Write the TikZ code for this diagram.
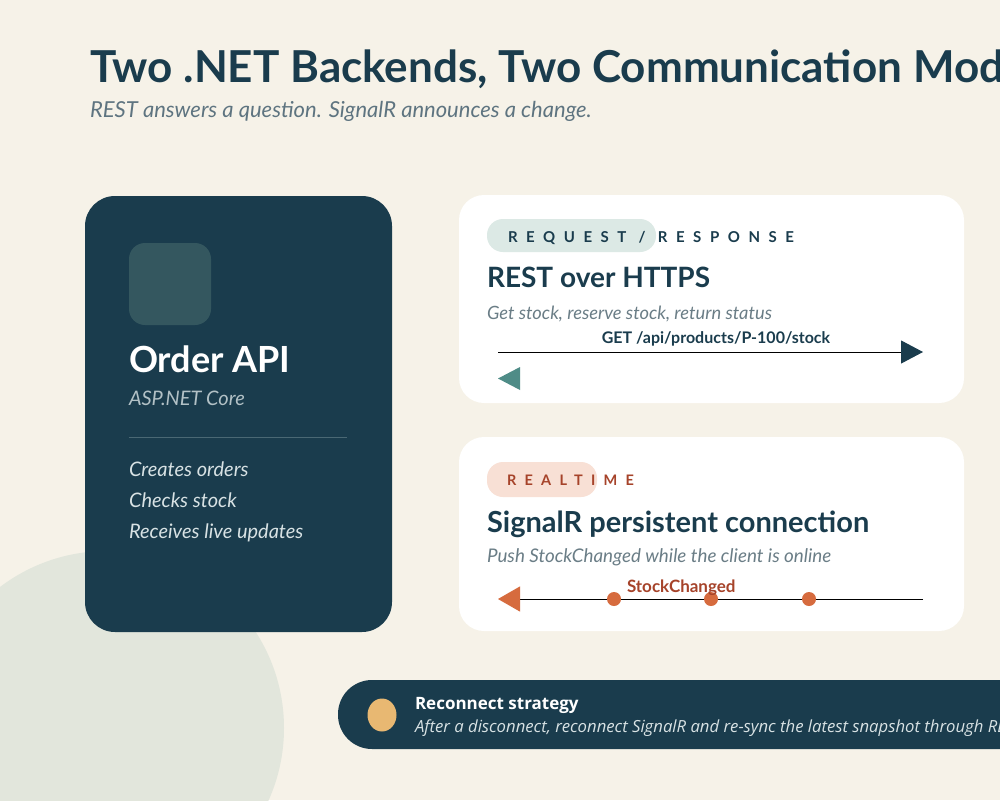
\documentclass[tikz,border=0pt]{standalone}
\usepackage{fontspec}
\setmainfont{Lato}
\newfontfamily\osans{Open Sans}
\usetikzlibrary{arrows.meta}
\definecolor{bg}{HTML}{F6F2E8}
\definecolor{dark}{HTML}{1A3C4D}
\definecolor{iconc}{HTML}{34575F}
\definecolor{blob}{HTML}{E2E6DC}
\definecolor{pillA}{HTML}{DCE9E5}
\definecolor{pillB}{HTML}{F8E0D5}
\definecolor{rust}{HTML}{A6432A}
\definecolor{orng}{HTML}{D66B3E}
\definecolor{teal}{HTML}{4F8C87}
\definecolor{gold}{HTML}{E8B872}
\definecolor{graytx}{HTML}{6A7D86}
\definecolor{subtx}{HTML}{5E7480}
\definecolor{lighttx}{HTML}{D8E2E4}
\definecolor{divc}{HTML}{4A6874}
\tikzset{
  txt/.style={anchor=base west, inner sep=0pt, outer sep=0pt},
  card/.style={fill=white, rounded corners=25pt},
  pillbox/.style={rounded corners=16pt},
  dot/.style={circle, fill=orng, minimum size=14pt, inner sep=0pt},
}
\begin{document}
\begin{tikzpicture}[x=1pt,y=-1pt]
\useasboundingbox (0,0) rectangle (1000,800);
\fill[bg] (0,0) rectangle (1000,800);
% decorative blob
\begin{scope}
\clip (0,0) rectangle (1000,800);
\fill[blob] (107,728) circle (177);
\end{scope}
% title
\node[txt, text=dark] (title) at (90,82) {\fontsize{44}{53}\selectfont\bfseries Two .NET Backends, Two Communication Modes};
\node[txt, text=subtx] (subtitle) at (90,117) {\fontsize{22}{26}\selectfont\itshape REST answers a question. SignalR announces a change.};
% left card
\fill[dark, rounded corners=30pt] (85,196) rectangle (392,632);
\fill[iconc, rounded corners=16pt] (129,243) rectangle (211,325);
\node[txt, text=white] (order) at (129,372) {\fontsize{36}{43}\selectfont\bfseries Order API};
\node[txt, text=lighttx!80!dark] (asp) at (129,405) {\fontsize{20}{24}\selectfont\itshape ASP.NET Core};
\draw[divc, line width=1pt] (129,437) -- (347,437);
\node[txt, text=lighttx] (l1) at (129,476) {\fontsize{20}{24}\selectfont\itshape Creates orders};
\node[txt, text=lighttx] (l2) at (129,507) {\fontsize{20}{24}\selectfont\itshape Checks stock};
\node[txt, text=lighttx] (l3) at (129,538) {\fontsize{20}{24}\selectfont\itshape Receives live updates};
% top right card
\fill[card] (459,195) rectangle (964,403);
\fill[pillA, pillbox] (487,219) rectangle (656,252);
\node[txt, text=dark] (tagA) at (508,242) {\fontsize{15}{18}\selectfont\bfseries\addfontfeatures{LetterSpace=57}REQUEST / RESPONSE};
\node[txt, text=dark] (restT) at (487,287) {\fontsize{28}{34}\selectfont\bfseries REST over HTTPS};
\node[txt, text=graytx] (restS) at (487,319) {\fontsize{18.3}{22}\selectfont\itshape Get stock, reserve stock, return status};
\coordinate (g1) at (498,352);
\coordinate (g2) at (923,352);
\draw[black, line width=1pt, -{Triangle[length=22pt,width=23pt,color=dark]}] (g1) -- (g2);
\node[anchor=base, inner sep=0pt, text=dark] (getL) at (716,343) {\fontsize{16}{19}\selectfont\bfseries GET /api/products/P-100/stock};
\fill[teal] (520,367) -- (498,378.5) -- (520,390) -- cycle;
% bottom right card
\fill[card] (459,437) rectangle (964,631);
\fill[pillB, pillbox] (487,462) rectangle (597,497);
\node[txt, text=rust] (tagB) at (507,485) {\fontsize{14.5}{17}\selectfont\bfseries\addfontfeatures{LetterSpace=57}REALTIME};
\node[txt, text=dark] (sigT) at (487,532) {\fontsize{29}{35}\selectfont\bfseries SignalR persistent connection};
\node[txt, text=graytx] (sigS) at (487,562) {\fontsize{18.8}{22}\selectfont\itshape Push StockChanged while the client is online};
\coordinate (s1) at (923,599);
\coordinate (s2) at (498,599);
\draw[black, line width=1pt, -{Triangle[length=22pt,width=25pt,color=orng]}] (s1) -- (s2);
\node[dot] (d1) at (614,599) {};
\node[dot] (d2) at (711,599) {};
\node[dot] (d3) at (809,599) {};
\node[txt, text=rust] (scL) at (627,592) {\fontsize{17}{20}\selectfont\bfseries StockChanged};
% bottom bar
\fill[dark, rounded corners=34pt] (338,680) rectangle (1060,749);
\fill[gold] (382,715) ellipse (14.5 and 16.5);
\node[txt, text=white] (recT) at (415,709) {\osans\fontsize{17}{20}\selectfont\bfseries Reconnect strategy};
\node[txt, text=lighttx] (recS) at (415,732) {\osans\fontsize{16.7}{20}\selectfont\itshape After a disconnect, reconnect SignalR and re-sync the latest snapshot through REST};
\end{tikzpicture}
\end{document}
